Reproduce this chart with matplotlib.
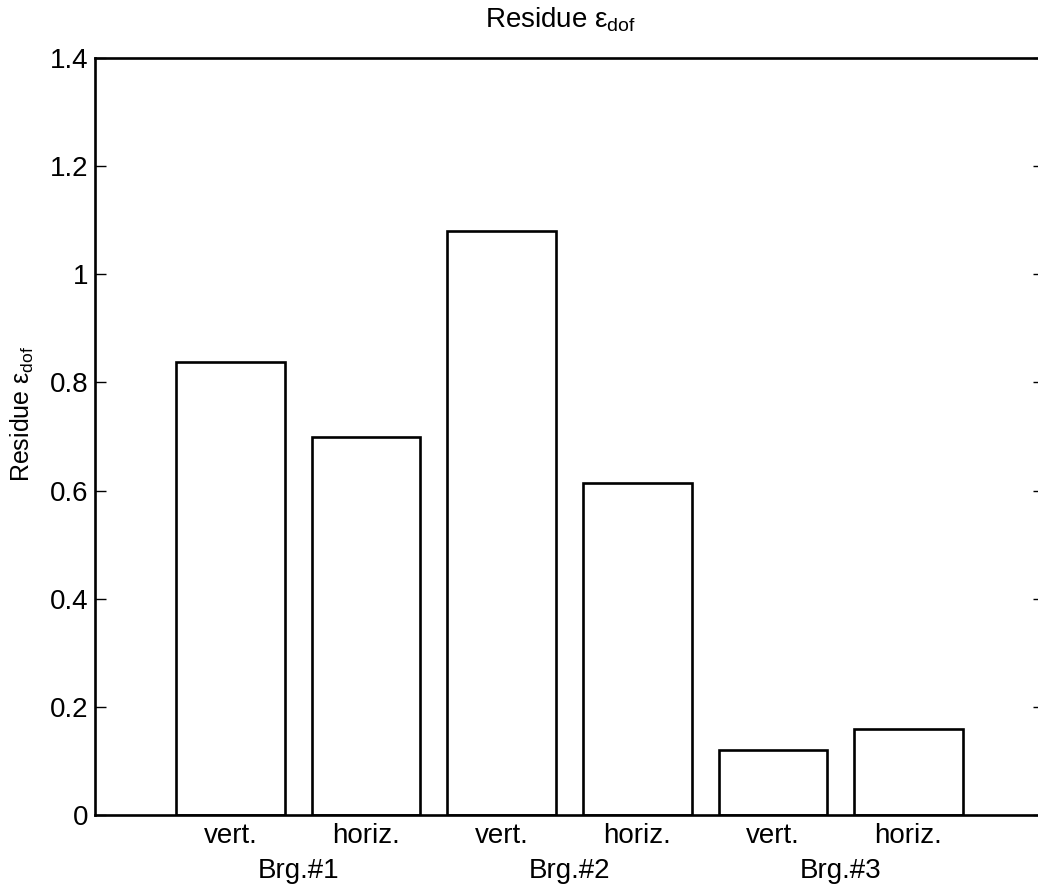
import matplotlib
matplotlib.use("Agg")
import matplotlib.pyplot as plt
from matplotlib.transforms import blended_transform_factory

plt.rcParams['font.family'] = ['Liberation Sans', 'DejaVu Sans']
plt.rcParams['mathtext.fontset'] = 'custom'
plt.rcParams['mathtext.rm'] = 'Liberation Sans'
plt.rcParams['mathtext.it'] = 'Liberation Sans'

directions = ["vert.", "horiz.", "vert.", "horiz.", "vert.", "horiz."]
bearings = ["Brg.#1", "Brg.#2", "Brg.#3"]
residues = [0.838, 0.700, 1.080, 0.614, 0.121, 0.159]
yticks = [0, 0.2, 0.4, 0.6, 0.8, 1, 1.2, 1.4]
ytick_labels = ["0", "0.2", "0.4", "0.6", "0.8", "1", "1.2", "1.4"]

W, H = 1038, 888
fig = plt.figure(figsize=(W / 100, H / 100), dpi=100)
left, right, top, bottom = 95, 1044, 58, 815
ax = fig.add_axes([left / W, 1 - bottom / H, (right - left) / W, (bottom - top) / H])

x = list(range(1, len(residues) + 1))
ax.bar(x, residues, width=0.8, facecolor='white', edgecolor='black', linewidth=1.9)
ax.set_xlim(0, 7)
ax.set_ylim(0, 1.4)
ax.set_yticks(yticks)
ax.set_yticklabels(ytick_labels, fontsize=20)
ax.set_xticks(x)
ax.set_xticklabels(directions, fontsize=20)
ax.tick_params(axis='x', length=0, pad=6)
ax.tick_params(axis='y', direction='in', length=8, width=1, right=True, pad=5)
for s in ax.spines.values():
    s.set_linewidth(1.9)

tr = blended_transform_factory(ax.transData, ax.transAxes)
for i, b in enumerate(bearings):
    ax.text(2 * i + 1.5, -0.057, b, transform=tr, ha='center', va='top', fontsize=20)

ax.set_title(r'Residue $\varepsilon_{\mathrm{dof}}$', fontsize=20, pad=22, x=0.49)
ax.set_ylabel(r'Residue $\varepsilon_{\mathrm{dof}}$', fontsize=18)
ax.yaxis.set_label_coords(-0.062, 0.53)

fig.savefig("out.png", dpi=100)
